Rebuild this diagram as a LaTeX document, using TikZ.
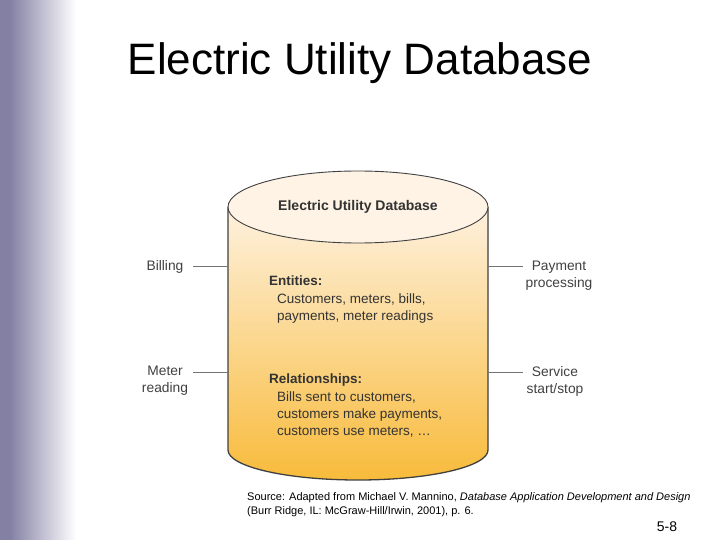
\documentclass[tikz,border=0pt]{standalone}
\usepackage{fontspec}
\setmainfont{Liberation Sans}
\definecolor{band}{RGB}{132,128,164}
\definecolor{cyltop}{RGB}{254,241,222}
\definecolor{cylbot}{RGB}{248,187,59}
\definecolor{lidfill}{RGB}{254,243,228}
\begin{document}
\begin{tikzpicture}[x=1pt,y=-1pt,
  lbl/.style={font=\fontsize{13.8}{17}\selectfont, text=black!75, align=center, inner sep=0pt},
  inner/.style={font=\fontsize{13.5}{17}\selectfont, text=black!80, align=left, anchor=north west, inner sep=0pt},
  conn/.style={draw=black!55, line width=0.8pt}]
\useasboundingbox (0,0) rectangle (720,540);
% left band
\fill[band] (0,0) rectangle (10,540);
\shade[left color=band, right color=white] (10,0) rectangle (76,540);
% title
\node[font=\fontsize{44}{50}\selectfont, anchor=center] (title) at (360,63) {Electric Utility Database};
% cylinder body
\shade[top color=cyltop, bottom color=cylbot]
  (228,207) -- (228,450) arc[start angle=180, end angle=0, x radius=130, y radius=30] -- (488,207) -- cycle;
\draw[black!75, line width=1.3pt] (228,207) -- (228,450) arc[start angle=180, end angle=0, x radius=130, y radius=30] -- (488,207);
\fill[lidfill] (358,207) ellipse[x radius=130, y radius=36];
\draw[black!75, line width=0.9pt] (358,207) ellipse[x radius=130, y radius=36];
\node[font=\bfseries\fontsize{14}{16}\selectfont, text=black!80] (dbname) at (358,207) {Electric Utility Database};
\coordinate (L1) at (228,266);
\coordinate (L2) at (228,372);
\coordinate (R1) at (488,266);
\coordinate (R2) at (488,372);
% inner texts
\node[inner] (ent) at (269,276) {\textbf{Entities:}\\[1pt]
  \hspace*{8pt}Customers, meters, bills,\\
  \hspace*{8pt}payments, meter readings};
\node[inner] (rel) at (269,374) {\textbf{Relationships:}\\[1pt]
  \hspace*{8pt}Bills sent to customers,\\
  \hspace*{8pt}customers make payments,\\
  \hspace*{8pt}customers use meters, \dots};
% side labels
\node[lbl] (billing) at (165,267) {Billing};
\node[lbl] (meter) at (165,381) {Meter\\reading};
\node[lbl] (payment) at (559,276) {Payment\\processing};
\node[lbl] (service) at (555,381) {Service\\start/stop};
\coordinate (bl) at (193,266);
\coordinate (ml) at (193,372);
\coordinate (pr) at (523,266);
\coordinate (sr) at (523,372);
\draw[conn] (bl) -- (L1);
\draw[conn] (ml) -- (L2);
\draw[conn] (R1) -- (pr);
\draw[conn] (R2) -- (sr);
% source
\node[anchor=north west, align=left, inner sep=0pt, font=\fontsize{11}{14}\selectfont] (src) at (247,492)
  {Source: Adapted from Michael V. Mannino, \textit{Database Application Development and Design}\\
   (Burr Ridge, IL: McGraw-Hill/Irwin, 2001), p. 6.};
\node[font=\fontsize{14}{16}\selectfont] (pg) at (667,527) {5-8};
\end{tikzpicture}
\end{document}
